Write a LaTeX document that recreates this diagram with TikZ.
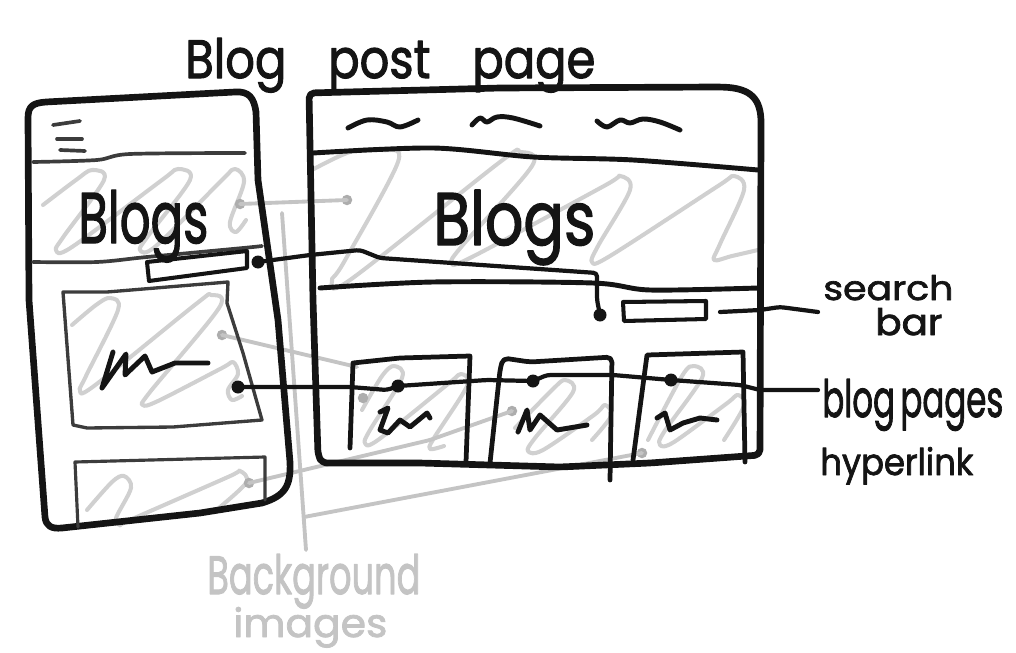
\documentclass[tikz,border=0pt]{standalone}
\usepackage{fontspec}
\setmainfont{Poppins}
\newfontfamily\handfont[FakeBold=2]{Poppins}
\usepackage{graphicx}
\newdimen\pxu \pxu=0.02cm
% fit a word into a box of given width and height (in px units)
\newcommand{\fitw}[3]{\resizebox{#1\pxu}{#2\pxu}{\handfont #3}}
\definecolor{ink}{HTML}{141414}
\definecolor{softink}{HTML}{3C3C3C}
\definecolor{ghostc}{HTML}{C4C4C4}
\definecolor{scribc}{HTML}{D0D0D0}
\definecolor{ghostdot}{HTML}{ADADAD}
\begin{document}
\begin{tikzpicture}[x=0.02cm, y=-0.02cm, line cap=round, line join=round,
  frame/.style={draw=ink, line width=3.8pt},
  rule/.style={draw=ink, line width=2.8pt},
  softrule/.style={draw=softink, line width=2.1pt},
  cardline/.style={draw=ink, line width=2.7pt},
  conn/.style={draw=ink, line width=2.4pt, rounded corners=2pt},
  ghost/.style={draw=ghostc, line width=2.2pt, rounded corners=2pt},
  scrib/.style={draw=scribc, line width=2.3pt},
  squig/.style={draw=ink, line width=2.8pt},
  dot/.style={circle, fill=ink, inner sep=0pt, minimum size=2.6mm},
  gdot/.style={circle, fill=ghostdot, inner sep=0pt, minimum size=2.1mm},
  hand/.style={inner sep=0pt, anchor=base west, text=ink},
  ghosttext/.style={inner sep=0pt, anchor=base west, text=ghostc}]
\useasboundingbox (0,0) rectangle (1016,652);

% ---------- background-image scribbles ----------
\tikzset{loopy/.style={smooth, tension=0.55}}
% phone hero
\draw[scrib] plot[loopy] coordinates {(43,205) (76,180) (92,170) (104,180) (64,236) (56,250) (72,247) (162,180) (178,169) (190,180) (148,236) (140,250) (156,246) (222,180) (235,169) (244,182) (230,222) (236,232) (246,220)};
% phone image card
\draw[scrib] plot[loopy] coordinates {(72,325) (96,305) (110,298) (118,310) (86,376) (80,390) (94,386) (196,304) (211,295) (219,308) (150,392) (143,405) (158,401) (222,368) (233,362) (238,374) (228,390) (232,400) (242,396)};
% phone lower card
\draw[scrib] plot[loopy] coordinates {(87,510) (112,482) (124,476) (131,488) (116,518) (120,525) (130,520) (228,477) (240,471) (246,483) (214,512)};
% desktop hero
\draw[scrib] plot[loopy] coordinates {(312,170) (350,152) (382,150) (398,162) (344,262) (332,280) (350,280) (500,162) (520,152) (532,166) (462,246) (452,262) (470,258) (604,186) (620,176) (630,190) (598,246) (592,262) (610,256) (718,186) (734,176) (744,190) (720,244) (714,260) (732,256) (758,250)};
% desktop cards
\draw[scrib] plot[loopy] coordinates {(362,410) (382,376) (394,366) (402,378) (370,430) (365,443) (378,440) (448,384) (461,374) (467,386) (434,438) (430,449) (444,446)};
\draw[scrib] plot[loopy] coordinates {(515,428) (552,390) (565,380) (573,392) (535,438) (528,451) (543,450) (594,415) (605,405) (611,416) (592,440)};
\draw[scrib] plot[loopy] coordinates {(648,440) (682,376) (694,366) (702,378) (664,432) (660,445) (674,442) (726,404) (738,395) (744,406) (724,440)};

% ---------- background-image pointers ----------
\node[gdot] (gHeroP) at (240,204) {};
\node[gdot] (gHeroD) at (347,200) {};
\node[gdot] (gImgP) at (222,335) {};
\node[gdot] (gCard1) at (363,398) {};
\node[gdot] (gCard2) at (512,411) {};
\node[gdot] (gCard3) at (642,453) {};
\node[gdot] (gBotP) at (249,483) {};
\coordinate (bgTop) at (282,213);
\coordinate (bgBot) at (306,550);
\coordinate (bgFork) at (304,517);
\coordinate (gImgEnd) at (357,367);
\draw[ghost] (gHeroP.center) -- (gHeroD.center);
\draw[ghost] (bgTop) -- (bgBot);
\draw[ghost] (bgFork) -- (gCard3.center);
\draw[ghost] (gImgP.center) -- (gImgEnd);
\draw[ghost] (gBotP.center) -- (430,440) -- (gCard2.center);

% ---------- phone ----------
\draw[frame] (29,300) -- (28,118) .. controls (28,106) and (33,103) .. (46,102)
  -- (235,92) .. controls (249,91) and (254,98) .. (256,112)
  -- (258,180) -- (278,320) -- (290,462)
  .. controls (291,486) and (285,496) .. (262,503)
  -- (200,513) -- (62,528) .. controls (51,529) and (46,526) .. (45,517) -- cycle;
% hamburger icon
\draw[softrule] (53,125) -- (80,121);
\draw[softrule] (57,139) -- (82,139);
\draw[softrule] (60,150) -- (85,151);
% dividers
\draw[softrule] plot[smooth, tension=0.5] coordinates {(33,162) (97,160) (130,154) (245,153)};
\draw[softrule] plot[smooth, tension=0.5] coordinates {(33,262) (97,262) (147,257) (243,248) (262,246)};
% search bar
\draw[draw=ink, line width=2.3pt] (147,262) -- (247,251) -- (247,268) -- (149,281) -- cycle;
% image card
\draw[draw=softink, line width=1.9pt] (63,292) -- (107,292) -- (228,282) -- (227,303) -- (243,353) -- (262,420) -- (173,427) -- (87,428) -- (73,425) -- cycle;
\draw[squig] (113,352) -- (102,388) -- (126,354) -- (125,375) -- (145,356) -- (152,372) -- (175,363) -- (208,363);
% lower card
\draw[draw=softink, line width=1.8pt] (78,527) -- (75,462) -- (265,457) -- (265,500);

% ---------- desktop ----------
\draw[frame, rounded corners=3pt] (313,300) -- (309,93) -- (500,88) -- (718,87)
  .. controls (752,88) and (761,100) .. (761,128) -- (760,455)
  -- (650,463) -- (560,467) -- (420,463) -- (322,463) -- (318,455) -- cycle;
% navigation items
\draw[squig] plot[smooth, tension=0.6] coordinates {(348,128) (367,120) (387,122) (400,127) (418,120)};
\draw[squig] plot[smooth, tension=0.6] coordinates {(472,125) (480,118) (487,122) (497,117) (513,118) (540,126)};
\draw[squig] plot[smooth, tension=0.6] coordinates {(597,121) (607,127) (620,120) (630,123) (643,119) (660,122) (680,130)};
% dividers
\draw[rule] plot[smooth, tension=0.5] coordinates {(313,153) (433,148) (533,157) (633,160) (758,170)};
\draw[rule] plot[smooth, tension=0.5] coordinates {(320,288) (433,282) (593,283) (650,290) (758,288)};
% search bar
\draw[draw=ink, line width=2.3pt] (623,302) -- (706,301) -- (706,319) -- (624,321) -- cycle;
% blog cards
\draw[cardline] (350,448) -- (353,363) -- (400,358) -- (470,356) -- (466,462);
\draw[cardline, rounded corners=3pt] (490,463) -- (500,370) -- (503,358) -- (530,362) -- (563,360) -- (612,357) -- (610,480);
\draw[cardline] (633,460) -- (647,355) -- (743,352) -- (745,462);
% card thumbnails
\draw[squig] (380,412) -- (388,408) -- (380,430) -- (388,433) -- (400,420) -- (410,427) -- (427,413) -- (430,418);
\draw[squig] (518,432) -- (527,410) -- (530,430) -- (540,415) -- (557,430) -- (587,425);
\draw[squig] (657,418) -- (665,413) -- (670,430) -- (683,423) -- (700,418) -- (717,420);

% ---------- search bar connector ----------
\node[dot] (sdotP) at (258,262) {};
\node[dot] (sdotD) at (600,315) {};
\draw[conn] (sdotP.center) -- (310,255) -- (360,250) -- (380,258) -- (597,273) -- (597,300) -- (sdotD.center);
\coordinate (sLineA) at (720,312);
\coordinate (sLineB) at (818,312);
\draw[conn] (sLineA) -- (760,310) -- (780,307) -- (sLineB);

% ---------- blog page links ----------
\node[dot] (bdotP) at (238,387) {};
\node[dot] (bdot1) at (398,386) {};
\node[dot] (bdot2) at (533,381) {};
\node[dot] (bdot3) at (671,380) {};
\coordinate (bLineEnd) at (818,390);
\draw[conn] (bdotP.center) -- (350,387) -- (387,390) -- (bdot1.center);
\draw[conn] (bdot1.center) -- (487,380) -- (bdot2.center);
\draw[conn] (bdot2.center) -- (547,375) -- (613,375) -- (bdot3.center);
\draw[conn] (bdot3.center) -- (740,385) -- (760,390) -- (bLineEnd);

% ---------- lettering ----------
\node[hand] (title) at (185,78) {\fitw{410}{40}{Blog\hspace{0.9em}post\hspace{0.9em}page}};
\node[hand] (blogsP) at (78,243) {\fitw{130}{53}{Blogs}};
\node[hand] (blogsD) at (433,245) {\fitw{162}{55}{Blogs}};
\node[hand] (searchA) at (823,300) {\fitw{130}{25}{search}};
\node[hand] (searchB) at (875,335) {\fitw{67}{27}{bar}};
\node[hand] (pagesA) at (822,417) {\fitw{181}{38}{blog\,pages}};
\node[hand] (pagesB) at (820,475) {\fitw{153}{28}{hyperlink}};
\node[ghosttext] (bgA) at (207,594) {\fitw{213}{40}{Background}};
\node[ghosttext] (bgB) at (233,637) {\fitw{154}{30}{images}};
\end{tikzpicture}
\end{document}
